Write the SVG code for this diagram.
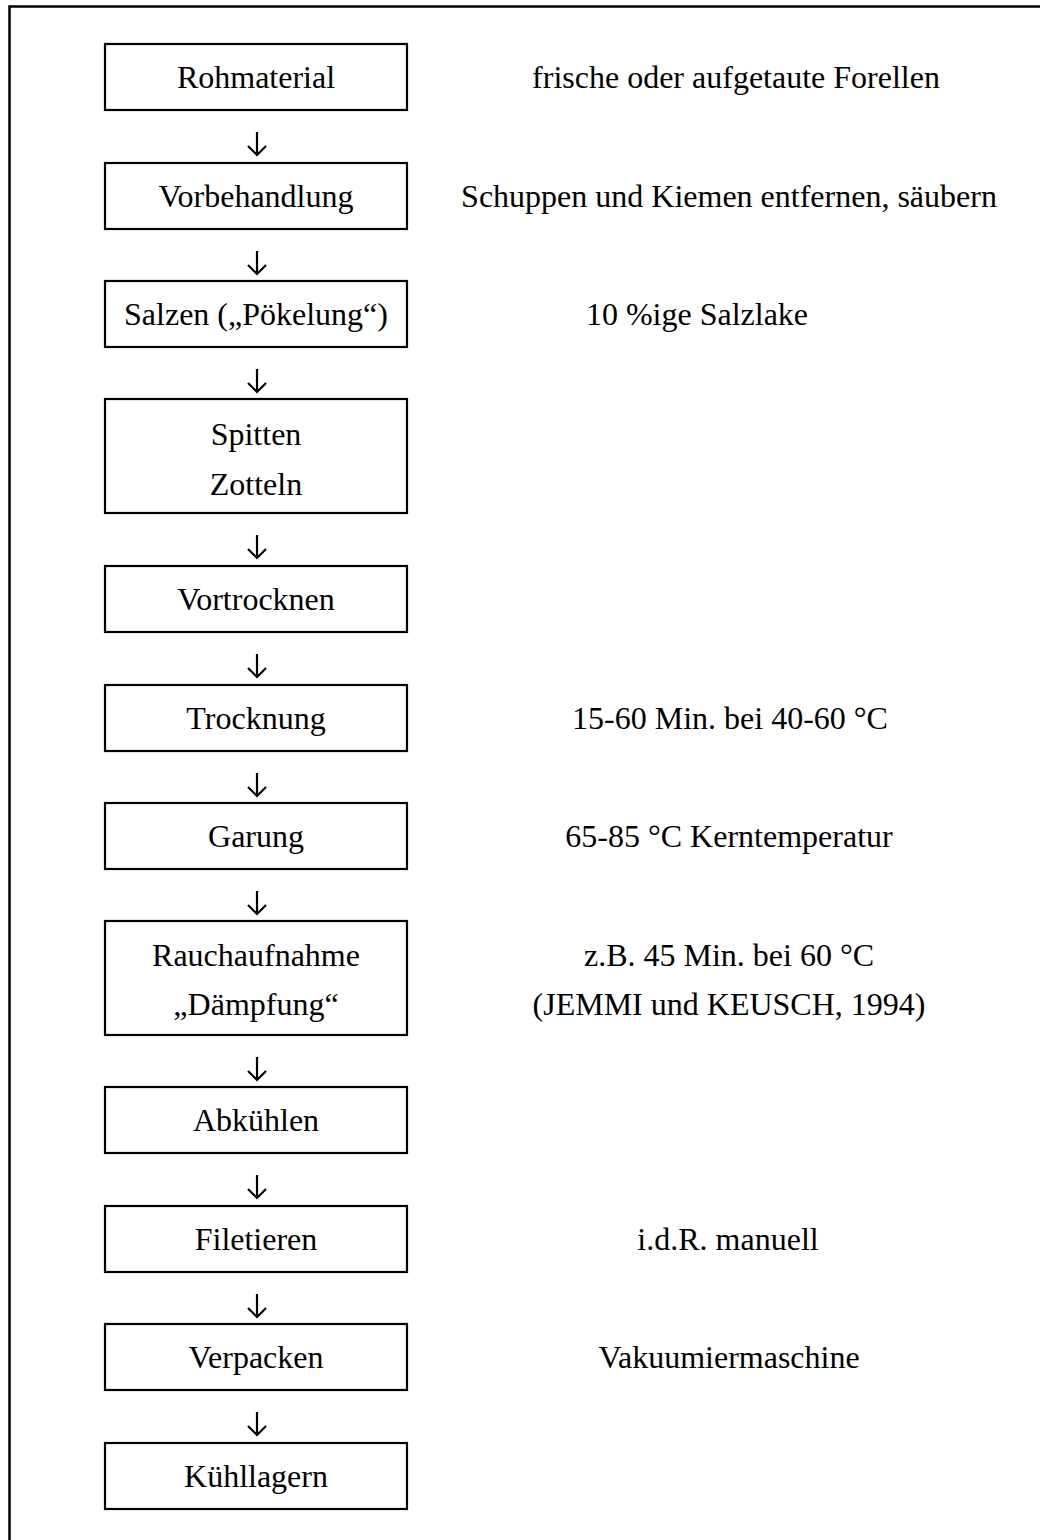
<svg xmlns="http://www.w3.org/2000/svg" width="1040" height="1540" viewBox="0 0 1040 1540">
<style>
.box{fill:#fff;stroke:#000;stroke-width:2.2}
.t{font-family:"Liberation Serif","Times New Roman",serif;font-size:32px;fill:#000;text-anchor:middle}
.frame{stroke:#000;stroke-width:2.5;fill:none}
.arr{stroke:#000;stroke-width:2.2;fill:none;stroke-linejoin:miter}
</style>
<rect width="1040" height="1540" fill="#fff"/>
<path class="frame" d="M9.5,1540 V6.5 H1040"/>
<g id="n1"><rect class="box" x="105" y="44" width="302" height="66"/><text class="t" x="256" y="88">Rohmaterial</text></g>
<g id="n2"><rect class="box" x="105" y="163" width="302" height="66"/><text class="t" x="256" y="207">Vorbehandlung</text></g>
<g id="n3"><rect class="box" x="105" y="281" width="302" height="66"/><text class="t" x="256" y="325">Salzen („Pökelung“)</text></g>
<g id="n4"><rect class="box" x="105" y="399" width="302" height="114"/><text class="t" x="256" y="445">Spitten</text><text class="t" x="256" y="495">Zotteln</text></g>
<g id="n5"><rect class="box" x="105" y="566" width="302" height="66"/><text class="t" x="256" y="610">Vortrocknen</text></g>
<g id="n6"><rect class="box" x="105" y="685" width="302" height="66"/><text class="t" x="256" y="729">Trocknung</text></g>
<g id="n7"><rect class="box" x="105" y="803" width="302" height="66"/><text class="t" x="256" y="847">Garung</text></g>
<g id="n8"><rect class="box" x="105" y="921" width="302" height="114"/><text class="t" x="256" y="966">Rauchaufnahme</text><text class="t" x="256" y="1015">„Dämpfung“</text></g>
<g id="n9"><rect class="box" x="105" y="1087" width="302" height="66"/><text class="t" x="256" y="1131">Abkühlen</text></g>
<g id="n10"><rect class="box" x="105" y="1206" width="302" height="66"/><text class="t" x="256" y="1250">Filetieren</text></g>
<g id="n11"><rect class="box" x="105" y="1324" width="302" height="66"/><text class="t" x="256" y="1368">Verpacken</text></g>
<g id="n12"><rect class="box" x="105" y="1443" width="302" height="66"/><text class="t" x="256" y="1487">Kühllagern</text></g>
<g id="notes">
<text class="t" x="736" y="88">frische oder aufgetaute Forellen</text>
<text class="t" x="729" y="207">Schuppen und Kiemen entfernen, säubern</text>
<text class="t" x="697" y="325">10 %ige Salzlake</text>
<text class="t" x="730" y="729">15-60 Min. bei 40-60 °C</text>
<text class="t" x="729" y="847">65-85 °C Kerntemperatur</text>
<text class="t" x="729" y="966">z.B. 45 Min. bei 60 °C</text>
<text class="t" x="729" y="1015">(JEMMI und KEUSCH, 1994)</text>
<text class="t" x="728" y="1250">i.d.R. manuell</text>
<text class="t" x="729" y="1368">Vakuumiermaschine</text>
</g>
<g id="connectors">
<path class="arr" d="M257,132 V155 M248,146 L257,155 L266,146"/>
<path class="arr" d="M257,251 V274 M248,265 L257,274 L266,265"/>
<path class="arr" d="M257,369 V392 M248,383 L257,392 L266,383"/>
<path class="arr" d="M257,535 V558 M248,549 L257,558 L266,549"/>
<path class="arr" d="M257,654 V677 M248,668 L257,677 L266,668"/>
<path class="arr" d="M257,773 V796 M248,787 L257,796 L266,787"/>
<path class="arr" d="M257,891 V914 M248,905 L257,914 L266,905"/>
<path class="arr" d="M257,1057 V1080 M248,1071 L257,1080 L266,1071"/>
<path class="arr" d="M257,1175 V1198 M248,1189 L257,1198 L266,1189"/>
<path class="arr" d="M257,1294 V1317 M248,1308 L257,1317 L266,1308"/>
<path class="arr" d="M257,1412 V1435 M248,1426 L257,1435 L266,1426"/>
</g>
</svg>
